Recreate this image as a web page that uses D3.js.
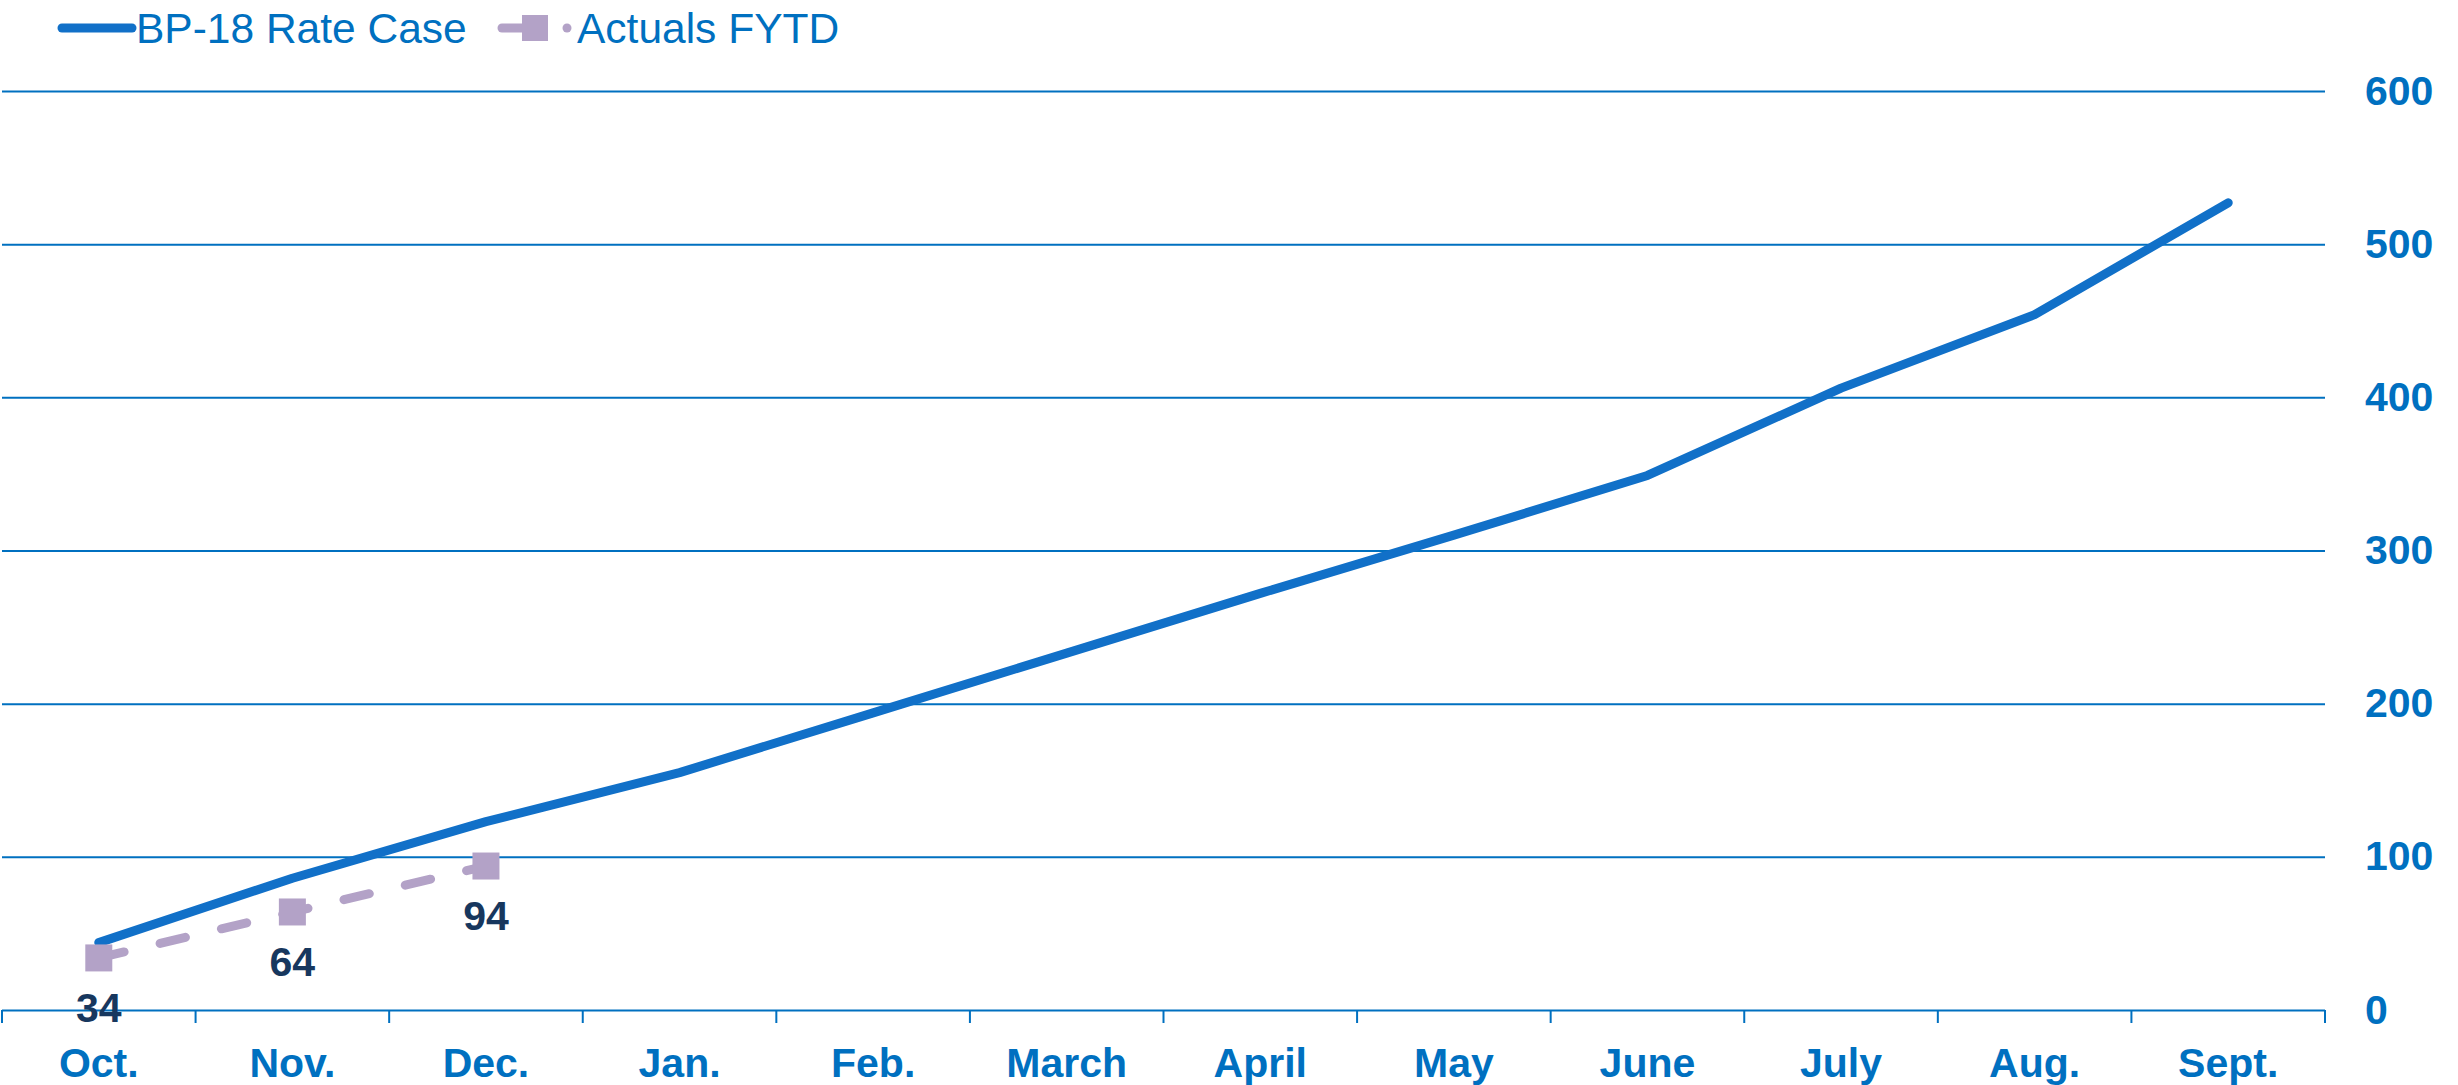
<!DOCTYPE html>
<html>
<head>
<meta charset="utf-8">
<script src="https://cdn.jsdelivr.net/npm/d3@7"></script>
<style>
  body { margin: 0; background: #fff; }
  svg { font-family: "Liberation Sans", Arial, sans-serif; }
  .tick text { fill: #0070C0; font-weight: bold; font-size: 41px; }
</style>
</head>
<body>
<svg width="2458" height="1085"></svg>
<script>
// datos del gráfico
const months = ['Oct.', 'Nov.', 'Dec.', 'Jan.', 'Feb.', 'March', 'April', 'May', 'June', 'July', 'Aug.', 'Sept.'];
const rateCase = [44, 86, 123, 155, 194, 233, 272, 310, 349, 406, 454, 527];
const actuals = [34, 64, 94];
const yTicks = [0, 100, 200, 300, 400, 500, 600];

const svg = d3.select('svg');
const margin = { top: 91, right: 133, bottom: 75, left: 2 };
const width = 2458 - margin.left - margin.right;
const height = 1085 - margin.top - margin.bottom;

const g = svg.append('g').attr('transform', `translate(${margin.left},${margin.top})`);

const x = d3.scaleBand().domain(months).range([0, width]);
const y = d3.scaleLinear().domain([0, 600]).range([height, 0]);

// líneas de cuadrícula + etiquetas a la derecha
const yAxis = g.append('g')
  .call(d3.axisRight(y).tickValues(yTicks).tickSize(width).tickPadding(40).tickFormat(d3.format('d')));
yAxis.select('.domain').remove();
yAxis.selectAll('.tick line').attr('stroke', '#0070C0').attr('stroke-width', 2);

// eje x
const xAxis = g.append('g')
  .attr('transform', `translate(0,${height})`)
  .call(d3.axisBottom(x).tickSize(0).tickPadding(38));
xAxis.select('.domain').remove();
xAxis.selectAll('.tick text').attr('dy', '0.71em');

// marcas entre meses
g.append('g').selectAll('line')
  .data(d3.range(months.length + 1))
  .enter().append('line')
  .attr('x1', i => i * x.step()).attr('x2', i => i * x.step())
  .attr('y1', height).attr('y2', height + 13)
  .attr('stroke', '#0070C0').attr('stroke-width', 2);

const cx = (d, i) => x(months[i]) + x.bandwidth() / 2;

// BP-18 Rate Case
g.append('path')
  .datum(rateCase)
  .attr('fill', 'none')
  .attr('stroke', '#1170C8')
  .attr('stroke-width', 9)
  .attr('stroke-linecap', 'round')
  .attr('stroke-linejoin', 'round')
  .attr('d', d3.line().x(cx).y(d => y(d)));

// Actuals FYTD
g.append('path')
  .datum(actuals)
  .attr('fill', 'none')
  .attr('stroke', '#B3A2C7')
  .attr('stroke-width', 9)
  .attr('stroke-linecap', 'round')
  .attr('stroke-dasharray', '26 37')
  .attr('d', d3.line().x(cx).y(d => y(d)));

g.selectAll('.sq').data(actuals)
  .enter().append('rect')
  .attr('class', 'sq')
  .attr('x', (d, i) => cx(d, i) - 13.5)
  .attr('y', d => y(d) - 13.5)
  .attr('width', 27).attr('height', 27)
  .attr('fill', '#B3A2C7');

g.selectAll('.lbl').data(actuals)
  .enter().append('text')
  .attr('class', 'lbl')
  .attr('x', (d, i) => cx(d, i))
  .attr('y', d => y(d) + 64)
  .attr('text-anchor', 'middle')
  .attr('fill', '#17375E')
  .attr('font-weight', 'bold')
  .attr('font-size', 41)
  .text(d => d);

// leyenda
const legend = svg.append('g');
legend.append('line')
  .attr('x1', 62).attr('x2', 132).attr('y1', 28).attr('y2', 28)
  .attr('stroke', '#1170C8').attr('stroke-width', 9).attr('stroke-linecap', 'round');
legend.append('text')
  .attr('x', 136).attr('y', 43)
  .attr('fill', '#0070C0').attr('font-size', 42.5)
  .text('BP-18 Rate Case');
legend.append('line')
  .attr('x1', 502).attr('x2', 526).attr('y1', 28).attr('y2', 28)
  .attr('stroke', '#B3A2C7').attr('stroke-width', 9).attr('stroke-linecap', 'round');
legend.append('rect')
  .attr('x', 522).attr('y', 15).attr('width', 26).attr('height', 26)
  .attr('fill', '#B3A2C7');
legend.append('circle')
  .attr('cx', 567).attr('cy', 28).attr('r', 4.5)
  .attr('fill', '#B3A2C7');
legend.append('text')
  .attr('x', 577).attr('y', 43)
  .attr('fill', '#0070C0').attr('font-size', 42.5)
  .text('Actuals FYTD');
</script>
</body>
</html>
